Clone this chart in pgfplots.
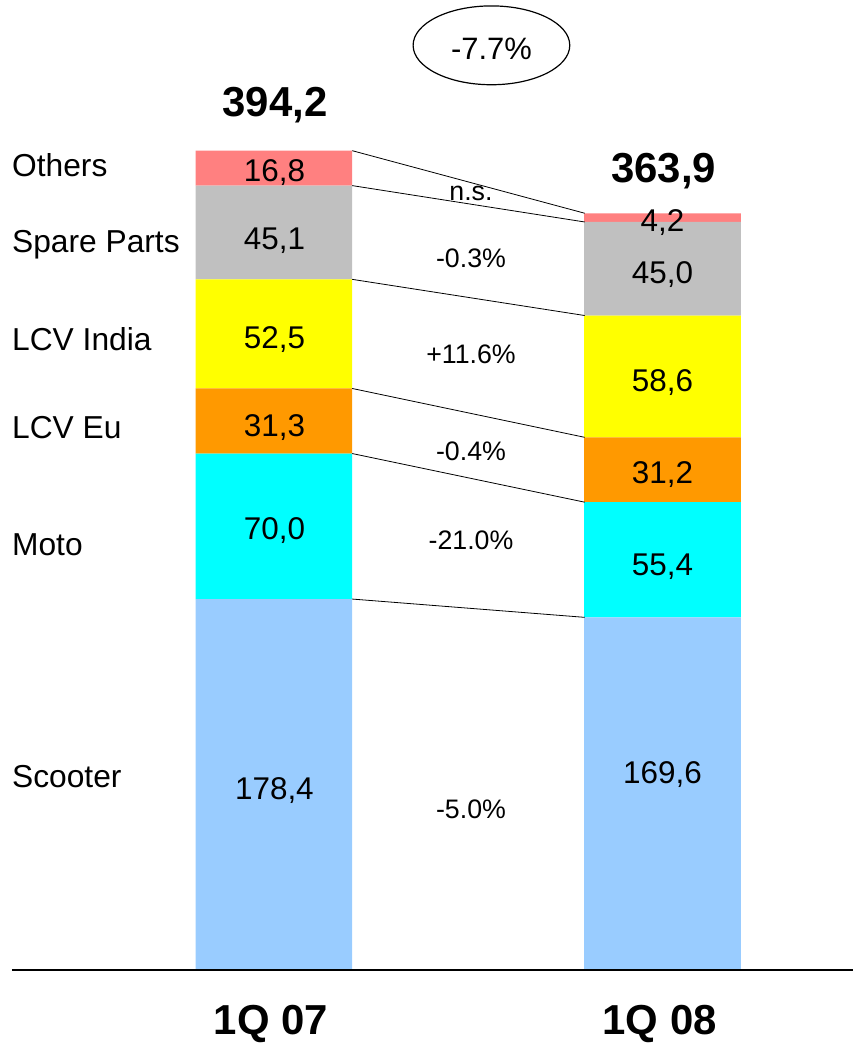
\documentclass[border=0pt]{standalone}
\usepackage{pgfplots}
\pgfplotsset{compat=1.18}
\usepackage{fontspec}
\setmainfont{Liberation Sans}
\usetikzlibrary{shapes.geometric}
\definecolor{cScooter}{HTML}{99CCFF}
\definecolor{cMoto}{HTML}{00FFFF}
\definecolor{cEu}{HTML}{FF9900}
\definecolor{cIndia}{HTML}{FFFF00}
\definecolor{cSpare}{HTML}{C0C0C0}
\definecolor{cOther}{HTML}{FF8080}
\pgfplotsset{base/.style={scale only axis, width=855pt, height=1043pt,
  xmin=0, xmax=855, ymin=-34.09, ymax=466.6, hide axis, clip=false}}
\tikzset{
  cat/.style={anchor=base west, inner sep=0pt, font=\fontsize{31.8}{38}\selectfont},
  val/.style={anchor=base, inner sep=0pt, font=\fontsize{31.5}{38}\selectfont},
  chg/.style={anchor=base, inner sep=0pt, font=\fontsize{26.8}{32}\selectfont},
  big/.style={anchor=base, inner sep=0pt, font=\fontsize{42}{50}\selectfont\bfseries},
}
\begin{document}
\begin{tikzpicture}
\begin{axis}[base, ybar stacked, bar width=157]
\addplot[fill=cScooter, draw=none] coordinates {(274.5,178.4) (664,169.6)};
\addplot[fill=cMoto, draw=none] coordinates {(274.5,70.0) (664,55.4)};
\addplot[fill=cEu, draw=none] coordinates {(274.5,31.3) (664,31.2)};
\addplot[fill=cIndia, draw=none] coordinates {(274.5,52.5) (664,58.6)};
\addplot[fill=cSpare, draw=none] coordinates {(274.5,45.1) (664,45.0)};
\addplot[fill=cOther, draw=none] coordinates {(274.5,16.8) (664,4.2)};
\end{axis}
\begin{axis}[base]
\path (rel axis cs:0,0) rectangle (rel axis cs:1,1);
\addplot[black, line width=0.8pt, mark=none] coordinates {(353,178.4) (586,169.6)};
\addplot[black, line width=0.8pt, mark=none] coordinates {(353,248.4) (586,225.0)};
\addplot[black, line width=0.8pt, mark=none] coordinates {(353,279.7) (586,256.2)};
\addplot[black, line width=0.8pt, mark=none] coordinates {(353,332.2) (586,314.8)};
\addplot[black, line width=0.8pt, mark=none] coordinates {(353,377.3) (586,359.8)};
\addplot[black, line width=0.8pt, mark=none] coordinates {(353,394.1) (586,364.0)};
\addplot[black, line width=1.5pt, mark=none] coordinates {(12,0) (855,0)};
% category labels
\node[cat] at (axis cs:12,{(972-177)/2.083}) {Others};
\node[cat] at (axis cs:12,{(972-253)/2.083}) {Spare Parts};
\node[cat] at (axis cs:12,{(972-351)/2.083}) {LCV India};
\node[cat] at (axis cs:12,{(972-440)/2.083}) {LCV Eu};
\node[cat] at (axis cs:12,{(972-557)/2.083}) {Moto};
\node[cat] at (axis cs:12,{(972-789)/2.083}) {Scooter};
% bar values 1Q 07
\node[val] at (axis cs:275,{(972-182)/2.083}) {16,8};
\node[val] at (axis cs:275,{(972-250)/2.083}) {45,1};
\node[val] at (axis cs:275,{(972-349)/2.083}) {52,5};
\node[val] at (axis cs:275,{(972-437)/2.083}) {31,3};
\node[val] at (axis cs:275,{(972-541)/2.083}) {70,0};
\node[val] at (axis cs:275,{(972-801)/2.083}) {178,4};
% bar values 1Q 08
\node[val] at (axis cs:664,{(972-232)/2.083}) {4,2};
\node[val] at (axis cs:664,{(972-284)/2.083}) {45,0};
\node[val] at (axis cs:664,{(972-392)/2.083}) {58,6};
\node[val] at (axis cs:664,{(972-485)/2.083}) {31,2};
\node[val] at (axis cs:664,{(972-577)/2.083}) {55,4};
\node[val] at (axis cs:664,{(972-785)/2.083}) {169,6};
% changes
\node[chg] at (axis cs:472,{(972-201)/2.083}) {n.s.};
\node[chg] at (axis cs:472,{(972-268)/2.083}) {-0.3\%};
\node[chg] at (axis cs:472,{(972-364)/2.083}) {+11.6\%};
\node[chg] at (axis cs:472,{(972-462)/2.083}) {-0.4\%};
\node[chg] at (axis cs:472,{(972-551)/2.083}) {-21.0\%};
\node[chg] at (axis cs:472,{(972-820)/2.083}) {-5.0\%};
% totals
\node[big] at (axis cs:275.5,{(972-117)/2.083}) {394,2};
\node[big] at (axis cs:665,{(972-183)/2.083}) {363,9};
\node[big] at (axis cs:271.5,{(972-1037)/2.083}) {1Q 07};
\node[big] at (axis cs:661,{(972-1037)/2.083}) {1Q 08};
% ellipse
\node[draw, ellipse, line width=1.2pt, inner sep=0pt, minimum width=157pt, minimum height=79pt]
  at (axis cs:492.5,{(972-45.5)/2.083}) {};
\node[val, font=\fontsize{31}{37}\selectfont] at (axis cs:492.5,{(972-60)/2.083}) {-7.7\%};
\end{axis}
\end{tikzpicture}
\end{document}
